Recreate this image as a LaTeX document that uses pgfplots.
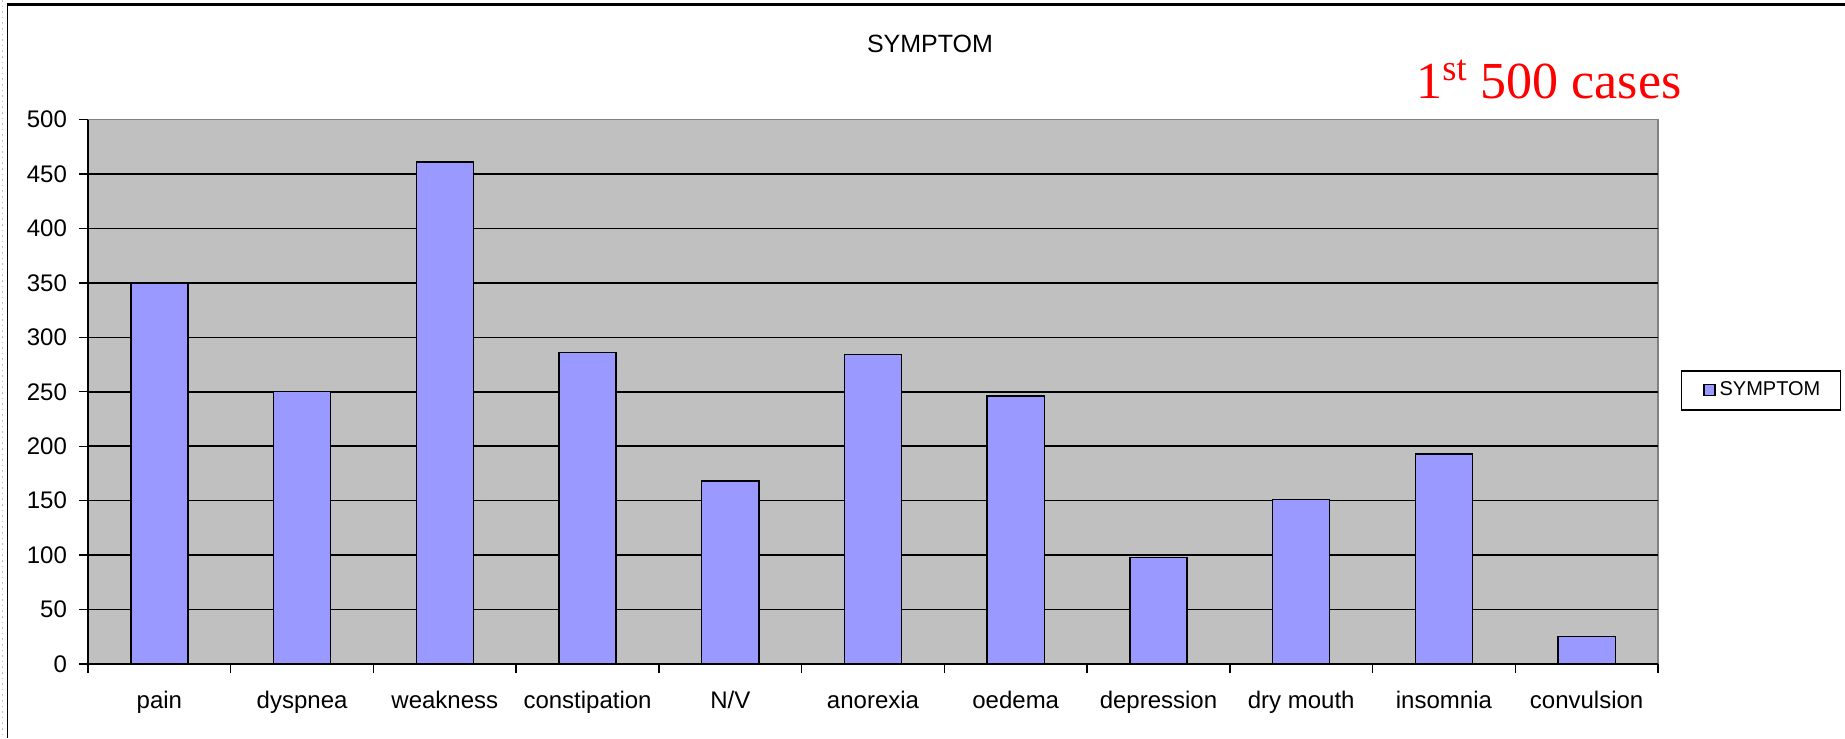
\documentclass[border=0pt]{standalone}
\usepackage{pgfplots}
\pgfplotsset{compat=1.18}
\usepackage{fontspec}
\setmainfont{Liberation Sans}
\newfontfamily\timesfont{Liberation Serif}
\definecolor{plotbg}{HTML}{C0C0C0}
\definecolor{barfill}{HTML}{9999FF}
\definecolor{bordergray}{HTML}{808080}
\begin{document}
\begin{tikzpicture}[x=1pt,y=1pt]
\useasboundingbox (0,0) rectangle (922.5,-369);
\fill[white] (0,0) rectangle (922.5,-369);
\draw[black!25, dotted, line width=0.8pt] (1.2,0) -- (1.2,-369);
\draw[black, line width=0.9pt] (3.75,-369) -- (3.75,-2.5);
\draw[black, line width=1.5pt] (3.3,-2.5) -- (922.5,-2.5);
\begin{axis}[
  at={(44pt,-332pt)}, anchor=south west,
  scale only axis, width=785pt, height=272.25pt,
  xmin=-0.5, xmax=10.5, ymin=0, ymax=500,
  axis x line*=bottom, axis y line*=left,
  axis line style={black, line width=0.8pt},
  axis background/.style={fill=plotbg, draw=bordergray, line width=0.8pt},
  tick align=outside,
  major tick length=4.5pt, minor tick length=4.5pt,
  ytick={0,50,...,450}, extra y ticks={500}, extra y tick style={grid=none},
  ymajorgrids, grid style={black, line width=0.75pt},
  xtick={0,...,10},
  xticklabels={pain,dyspnea,weakness,constipation,N/V,anorexia,oedema,depression,dry mouth,insomnia,convulsion},
  minor xtick={-0.5,0.5,...,10.5},
  major x tick style={draw=none},
  minor x tick style={draw=black, line width=0.7pt},
  y tick style={draw=black, line width=0.7pt},
  /pgf/number format/assume math mode=true,
  yticklabel style={font=\fontsize{12}{14}\selectfont, xshift=-2.5pt},
  xticklabel style={font=\fontsize{12}{14}\selectfont, text height=9pt, text depth=2.5pt, yshift=-5pt},
  legend style={at={(1.0655,0.5025)}, anchor=center, draw=black, line width=0.7pt,
    font=\fontsize{10}{12}\selectfont, inner xsep=8pt, inner ysep=3.5pt,
    /tikz/every even column/.append style={column sep=1.5pt}},
]
\addplot[ybar, bar width=0.4, fill=barfill, draw=black, line width=0.7pt,
  legend image code/.code={\path (0pt,0pt); \draw[fill=barfill, draw=black, line width=0.6pt] (3pt,-2.75pt) rectangle (8.5pt,2.75pt);}]
  coordinates {(0,350) (1,250) (2,461) (3,286) (4,168) (5,284) (6,246) (7,98) (8,151) (9,193) (10,25)};
\addlegendentry{SYMPTOM}
\end{axis}
\node[anchor=base, inner sep=0pt, font=\fontsize{12.5}{15}\selectfont] at (465,-26.3) {SYMPTOM};
\node[anchor=base west, inner sep=0pt, text=red, font=\timesfont\fontsize{26}{30}\selectfont] at (708,-49.2) {1\textsuperscript{st} 500 cases};
\end{tikzpicture}
\end{document}
